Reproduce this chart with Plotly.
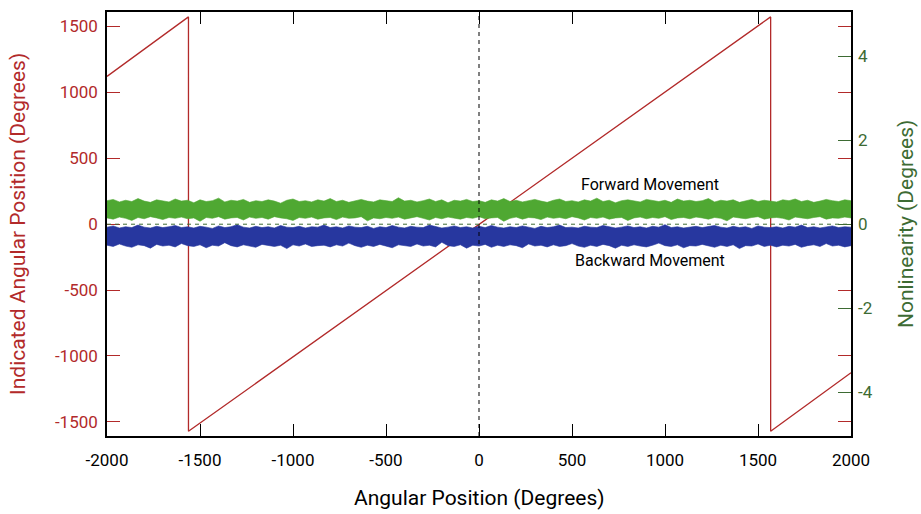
import numpy as np
import plotly.graph_objects as go

# ---------------- data ----------------
# Indicated angular position (sawtooth), left axis
saw_x = [-2000, -1562, -1562, 1568, 1568, 2000]
saw_y = [1120, 1571, -1571, 1571, -1571, -1127]

# Nonlinearity bands (right axis): envelope values
band_x = np.linspace(-2000, 2000, 121)
fwd_top = [0.56,0.59,0.53,0.57,0.54,0.61,0.55,0.52,0.58,0.56,0.53,0.60,
           0.55,0.57,0.51,0.58,0.54,0.56,0.62,0.53,0.57,0.55,0.59,0.52,
           0.56,0.54,0.58,0.55,0.50,0.57,0.60,0.54,0.56,0.53,0.58,0.55,
           0.61,0.54,0.57,0.52,0.56,0.59,0.55,0.53,0.58,0.56,0.54,0.63,
           0.55,0.57,0.53,0.56,0.60,0.54,0.58,0.51,0.57,0.55,0.59,0.54,
           0.56,0.52,0.58,0.55,0.61,0.54,0.57,0.53,0.56,0.59,0.55,0.52,
           0.57,0.60,0.54,0.56,0.53,0.58,0.55,0.62,0.54,0.57,0.51,0.56,
           0.58,0.55,0.53,0.59,0.56,0.54,0.57,0.52,0.60,0.55,0.57,0.54,
           0.56,0.61,0.53,0.57,0.55,0.58,0.52,0.56,0.59,0.54,0.57,0.55,
           0.53,0.58,0.56,0.60,0.54,0.57,0.52,0.55,0.59,0.56,0.54,0.58,
           0.56]
fwd_bot = [0.15,0.12,0.17,0.14,0.09,0.16,0.13,0.18,0.15,0.11,0.16,0.14,
           0.17,0.13,0.15,0.07,0.16,0.14,0.18,0.12,0.15,0.16,0.10,0.17,
           0.14,0.16,0.12,0.18,0.15,0.13,0.09,0.16,0.14,0.17,0.12,0.15,
           0.16,0.11,0.17,0.14,0.15,0.18,0.08,0.15,0.13,0.16,0.14,0.17,
           0.12,0.15,0.18,0.14,0.10,0.16,0.13,0.17,0.15,0.12,0.16,0.14,
           0.18,0.13,0.15,0.16,0.07,0.14,0.17,0.12,0.16,0.15,0.11,0.17,
           0.14,0.16,0.13,0.18,0.15,0.10,0.16,0.14,0.17,0.12,0.15,0.16,
           0.09,0.15,0.17,0.13,0.16,0.14,0.18,0.11,0.15,0.16,0.13,0.17,
           0.15,0.12,0.16,0.14,0.08,0.17,0.15,0.13,0.16,0.18,0.12,0.15,
           0.16,0.14,0.10,0.17,0.15,0.13,0.16,0.18,0.12,0.15,0.14,0.17,
           0.15]
bwd_top = [-0.07,-0.04,-0.09,-0.06,-0.08,-0.02,-0.07,-0.09,-0.05,-0.08,-0.06,-0.03,
           -0.08,-0.06,-0.09,-0.05,-0.07,-0.10,-0.04,-0.08,-0.06,-0.01,-0.07,-0.09,
           -0.05,-0.08,-0.06,-0.09,-0.03,-0.07,-0.08,-0.05,-0.09,-0.06,-0.07,-0.02,
           -0.08,-0.06,-0.09,-0.04,-0.07,-0.08,-0.05,-0.10,-0.06,-0.08,-0.03,-0.07,
           -0.09,-0.05,-0.07,-0.08,-0.02,-0.06,-0.09,-0.07,-0.04,-0.08,-0.06,-0.09,
           -0.05,-0.08,-0.03,-0.07,-0.09,-0.06,-0.08,-0.04,-0.07,-0.10,-0.05,-0.08,
           -0.06,-0.02,-0.08,-0.07,-0.09,-0.05,-0.07,-0.08,-0.03,-0.06,-0.09,-0.07,
           -0.04,-0.08,-0.06,-0.09,-0.05,-0.07,-0.01,-0.08,-0.06,-0.09,-0.07,-0.05,
           -0.08,-0.06,-0.03,-0.07,-0.09,-0.05,-0.08,-0.06,-0.10,-0.04,-0.07,-0.08,
           -0.06,-0.09,-0.05,-0.07,-0.02,-0.08,-0.06,-0.09,-0.07,-0.04,-0.08,-0.06,
           -0.07]
bwd_bot = [-0.50,-0.53,-0.47,-0.52,-0.55,-0.49,-0.51,-0.57,-0.48,-0.52,-0.50,-0.54,
           -0.46,-0.51,-0.53,-0.49,-0.56,-0.50,-0.52,-0.44,-0.51,-0.54,-0.49,-0.52,
           -0.55,-0.48,-0.51,-0.53,-0.50,-0.58,-0.49,-0.52,-0.47,-0.53,-0.51,-0.50,
           -0.54,-0.49,-0.52,-0.45,-0.51,-0.55,-0.50,-0.53,-0.48,-0.52,-0.56,-0.49,
           -0.51,-0.53,-0.47,-0.52,-0.50,-0.54,-0.43,-0.51,-0.53,-0.49,-0.57,-0.50,
           -0.52,-0.48,-0.55,-0.50,-0.53,-0.49,-0.51,-0.56,-0.47,-0.52,-0.50,-0.54,
           -0.49,-0.53,-0.51,-0.46,-0.52,-0.55,-0.50,-0.53,-0.48,-0.51,-0.57,-0.50,
           -0.53,-0.49,-0.52,-0.54,-0.50,-0.45,-0.51,-0.53,-0.49,-0.56,-0.51,-0.52,
           -0.48,-0.52,-0.55,-0.50,-0.53,-0.49,-0.58,-0.51,-0.52,-0.47,-0.53,-0.50,
           -0.54,-0.50,-0.52,-0.48,-0.55,-0.51,-0.49,-0.53,-0.46,-0.52,-0.50,-0.54,
           -0.51]

x_ticks = [-2000, -1500, -1000, -500, 0, 500, 1000, 1500, 2000]
y_ticks = [-1500, -1000, -500, 0, 500, 1000, 1500]
y2_ticks = [-4, -2, 0, 2, 4]

label_fwd = "Forward Movement"
label_bwd = "Backward Movement"
label_pos = {"fwd": (920, 0.95), "bwd": (920, -0.87)}

# ---------------- style ----------------
FONT = "Roboto, Liberation Sans, sans-serif"
RED = "#b22a2a"
GREEN_TXT = "#3d6b33"
GREEN = "#4fa832"
BLUE = "#27379f"

fig = go.Figure()

fig.add_trace(go.Scatter(x=band_x, y=fwd_top, yaxis="y2", mode="lines",
                         line=dict(width=0.6, color=GREEN), showlegend=False, hoverinfo="skip"))
fig.add_trace(go.Scatter(x=band_x, y=fwd_bot, yaxis="y2", mode="lines", fill="tonexty",
                         fillcolor=GREEN, line=dict(width=0.6, color=GREEN),
                         showlegend=False, hoverinfo="skip"))
fig.add_trace(go.Scatter(x=band_x, y=bwd_top, yaxis="y2", mode="lines",
                         line=dict(width=0.6, color=BLUE), showlegend=False, hoverinfo="skip"))
fig.add_trace(go.Scatter(x=band_x, y=bwd_bot, yaxis="y2", mode="lines", fill="tonexty",
                         fillcolor=BLUE, line=dict(width=0.6, color=BLUE),
                         showlegend=False, hoverinfo="skip"))

fig.add_trace(go.Scatter(x=saw_x, y=saw_y, mode="lines", line=dict(color=RED, width=1.3),
                         showlegend=False))

# reference lines
fig.add_shape(type="line", xref="x", yref="paper", x0=0, x1=0, y0=0, y1=1,
              line=dict(color="black", width=1, dash="4px,4px"), layer="above")
fig.add_shape(type="line", xref="paper", yref="y2", x0=0, x1=1, y0=0, y1=0,
              line=dict(color=GREEN_TXT, width=1, dash="4px,4px"), layer="above")

fig.add_annotation(x=label_pos["fwd"][0], y=label_pos["fwd"][1], xref="x", yref="y2",
                   text=label_fwd, showarrow=False, font=dict(family=FONT, size=16, color="black"))
fig.add_annotation(x=label_pos["bwd"][0], y=label_pos["bwd"][1], xref="x", yref="y2",
                   text=label_bwd, showarrow=False, font=dict(family=FONT, size=16, color="black"))

# axis titles
fig.add_annotation(x=0.5, y=-0.146, xref="paper", yref="paper", text="Angular Position (Degrees)",
                   showarrow=False, font=dict(family=FONT, size=21, color="black"),
                   xanchor="center", yanchor="middle")
fig.add_annotation(x=-0.1196, y=0.5, xref="paper", yref="paper",
                   text="Indicated Angular Position (Degrees)", textangle=-90,
                   showarrow=False, font=dict(family=FONT, size=21, color=RED),
                   xanchor="center", yanchor="middle")
fig.add_annotation(x=1.074, y=0.5, xref="paper", yref="paper",
                   text="Nonlinearity (Degrees)", textangle=-90,
                   showarrow=False, font=dict(family=FONT, size=21, color=GREEN_TXT),
                   xanchor="center", yanchor="middle")

fig.update_layout(
    width=921, height=514,
    margin=dict(l=107, r=70, t=10, b=78),
    paper_bgcolor="white", plot_bgcolor="white",
    font=dict(family=FONT),
    xaxis=dict(range=[-2000, 2000], tickvals=x_ticks, ticktext=[str(v) for v in x_ticks],
               ticks="inside", ticklen=12,
               tickcolor="black", tickwidth=1, showline=True, linecolor="black", linewidth=1.5,
               mirror="ticks", showgrid=False, zeroline=False,
               tickfont=dict(family=FONT, size=17, color="black"), ticklabelstandoff=8),
    yaxis=dict(range=[-1607, 1608], tickvals=y_ticks, ticktext=[str(v) for v in y_ticks],
               ticks="inside", ticklen=13,
               tickcolor=RED, tickwidth=1, showline=True, linecolor="black", linewidth=1.5,
               mirror="ticks", showgrid=False, zeroline=False,
               tickfont=dict(family=FONT, size=17, color=RED), ticklabelstandoff=4),
    yaxis2=dict(range=[-5.04, 5.05], tickvals=y2_ticks, ticktext=[str(v) for v in y2_ticks],
                overlaying="y", side="right",
                ticks="inside", ticklen=13, tickcolor=GREEN_TXT, tickwidth=1,
                showline=False, showgrid=False, zeroline=False,
                tickfont=dict(family=FONT, size=17, color=GREEN_TXT), ticklabelstandoff=6),
)

fig.write_html("out.html", config={"displayModeBar": False},
               post_script="document.body.style.margin='0';document.body.style.padding='0';")
